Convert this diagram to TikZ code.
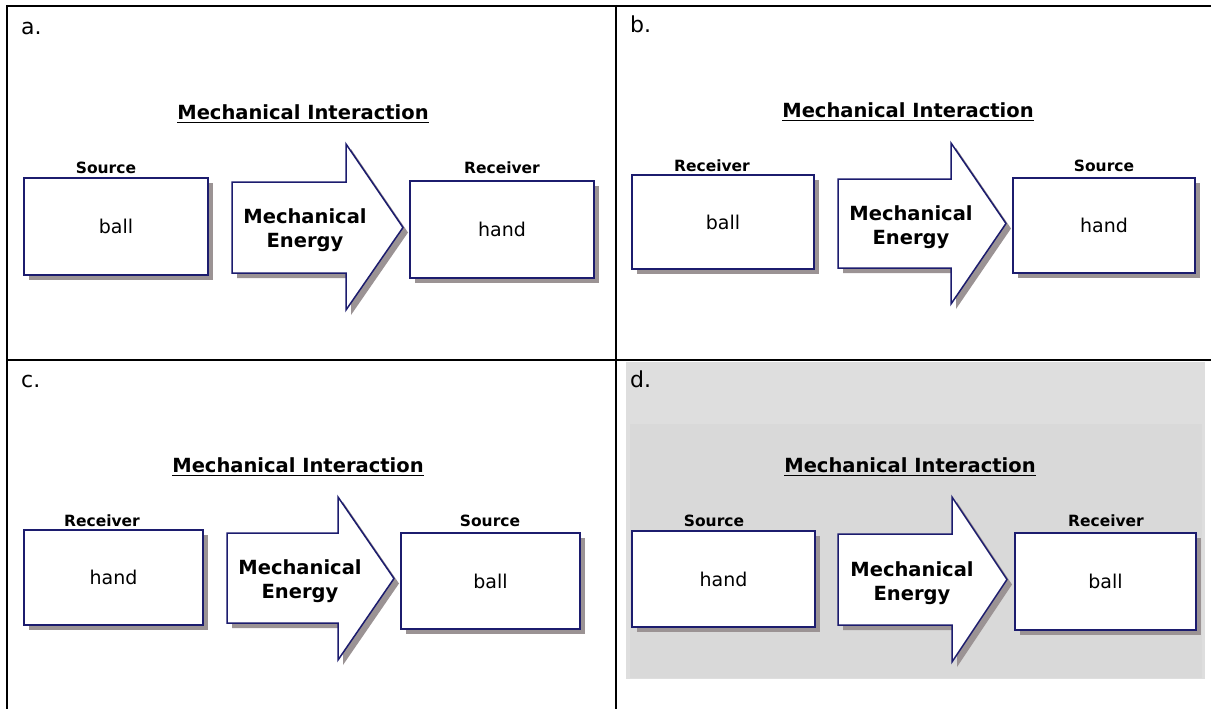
\documentclass[tikz,border=0pt]{standalone}
\usepackage{xcolor}
\usepackage{fontspec}
\setmainfont{DejaVu Sans}
\usepackage{tikz}
\usetikzlibrary{shadows, positioning}
\definecolor{boxblue}{RGB}{28,28,110}
\definecolor{shadowgray}{RGB}{155,147,148}
\definecolor{panelgray}{RGB}{222,222,222}
\definecolor{innergray}{RGB}{217,217,217}
\tikzset{
  thingbox/.style={rectangle, draw=boxblue, fill=white, line width=1.5pt,
    inner sep=0pt, font=\fontsize{19}{22}\selectfont,
    drop shadow={shadow xshift=5pt, shadow yshift=-5pt, fill=shadowgray, opacity=1}},
  energyarrow/.style={draw=boxblue, fill=white, line width=1.5pt, line join=miter,
    drop shadow={shadow xshift=5pt, shadow yshift=-5pt, fill=shadowgray, opacity=1}},
  energytext/.style={align=center, inner sep=0pt, font=\bfseries\fontsize{19.5}{24}\selectfont},
  rolelabel/.style={anchor=base, inner sep=0pt, font=\bfseries\fontsize{15.5}{18}\selectfont},
  titlelabel/.style={anchor=base, inner sep=0pt, font=\bfseries\fontsize{19.5}{22}\selectfont},
  panellabel/.style={anchor=base west, inner sep=0pt, font=\fontsize{22}{26}\selectfont},
  gridline/.style={line width=2pt, color=black}
}

\begin{document}
\begin{tikzpicture}[x=1pt, y=-1pt]
  \useasboundingbox (0,0) rectangle (1211,709);

  % Panel d background
  \fill[panelgray] (626,362) rectangle (1205,679);
  \fill[innergray] (630,424) rectangle (1202,678);

  % Table lines
  \draw[gridline] (6,6) -- (1211,6);
  \draw[gridline] (7,5) -- (7,709);
  \draw[gridline] (616,5) -- (616,709);
  \draw[gridline] (6,360) -- (1211,360);

  % Panel a
  \node[panellabel] (alabel) at (21,35) {a.};
  \node[titlelabel] (atitle) at (303,119.5) {Mechanical Interaction};
  \draw[line width=1.5pt] ([yshift=-3pt]atitle.base west) -- ([yshift=-3pt]atitle.base east);
  \node[thingbox, minimum width=184pt, minimum height=97pt] (aball) at (116,226.5) {ball};
  \node[thingbox, minimum width=184pt, minimum height=97pt] (ahand) at (502,229.5) {hand};
  \node[rolelabel] (asource) at (106,173.5) {Source};
  \node[rolelabel] (areceiver) at (502,173.5) {Receiver};
  \draw[energyarrow] (232,182) -- (346,182) -- (346,144) -- (403,227.5) -- (346,310) -- (346,273) -- (232,273) -- cycle;
  \node[energytext] (aenergy) at (305,230) {Mechanical\\Energy};

  % Panel b
  \node[panellabel] (blabel) at (630,33) {b.};
  \node[titlelabel] (btitle) at (908,117.5) {Mechanical Interaction};
  \draw[line width=1.5pt] ([yshift=-3pt]btitle.base west) -- ([yshift=-3pt]btitle.base east);
  \node[thingbox, minimum width=182pt, minimum height=94pt] (bball) at (723,222) {ball};
  \node[thingbox, minimum width=182pt, minimum height=95pt] (bhand) at (1104,225.5) {hand};
  \node[rolelabel] (breceiver) at (712,171.5) {Receiver};
  \node[rolelabel] (bsource) at (1104,171.5) {Source};
  \draw[energyarrow] (838,179) -- (951,179) -- (951,143) -- (1006,223.5) -- (951,304) -- (951,268) -- (838,268) -- cycle;
  \node[energytext] (benergy) at (911,227) {Mechanical\\Energy};

  % Panel c
  \node[panellabel] (clabel) at (21,387) {c.};
  \node[titlelabel] (ctitle) at (298,472.5) {Mechanical Interaction};
  \draw[line width=1.5pt] ([yshift=-3pt]ctitle.base west) -- ([yshift=-3pt]ctitle.base east);
  \node[thingbox, minimum width=179pt, minimum height=95pt] (chand) at (113.5,577.5) {hand};
  \node[thingbox, minimum width=179pt, minimum height=96pt] (cball) at (490.5,581) {ball};
  \node[rolelabel] (creceiver) at (102,526.5) {Receiver};
  \node[rolelabel] (csource) at (490,526.5) {Source};
  \draw[energyarrow] (227,533) -- (338,533) -- (338,497) -- (394,578.5) -- (338,660) -- (338,623) -- (227,623) -- cycle;
  \node[energytext] (cenergy) at (300,581.5) {Mechanical\\Energy};

  % Panel d
  \node[panellabel] (dlabel) at (630,387) {d.};
  \node[titlelabel] (dtitle) at (910,472.5) {Mechanical Interaction};
  \draw[line width=1.5pt] ([yshift=-3pt]dtitle.base west) -- ([yshift=-3pt]dtitle.base east);
  \node[thingbox, minimum width=183pt, minimum height=96pt] (dhand) at (723.5,579) {hand};
  \node[thingbox, minimum width=181pt, minimum height=97pt] (dball) at (1105.5,581.5) {ball};
  \node[rolelabel] (dsource) at (714,526.5) {Source};
  \node[rolelabel] (dreceiver) at (1106,526.5) {Receiver};
  \draw[energyarrow] (838,534) -- (952,534) -- (952,497) -- (1007,579.5) -- (952,662) -- (952,625) -- (838,625) -- cycle;
  \node[energytext] (denergy) at (912,583.5) {Mechanical\\Energy};
\end{tikzpicture}
\end{document}
